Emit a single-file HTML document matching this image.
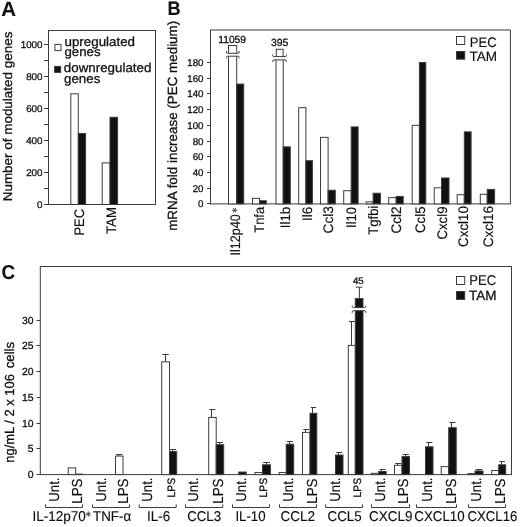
<!DOCTYPE html>
<html><head><meta charset="utf-8"><title>Figure</title>
<style>
html,body{margin:0;padding:0;background:#fff;}
body{width:520px;height:527px;overflow:hidden;font-family:"Liberation Sans", sans-serif;}
svg{display:block;will-change:transform;}
svg text{font-family:"Liberation Sans", sans-serif;fill:#111;stroke:#111;text-rendering:geometricPrecision;}
</style></head><body>
<svg width="520" height="527" viewBox="0 0 520 527">
<rect width="520" height="527" fill="#fff"/>
<text x="1.20" y="15.90" font-size="20.8" font-weight="bold" textLength="14.80" lengthAdjust="spacingAndGlyphs" style="stroke-width:0.1px">A</text>
<text x="167.40" y="14.50" font-size="19.5" font-weight="bold" textLength="13.10" lengthAdjust="spacingAndGlyphs" style="stroke-width:0.1px">B</text>
<text x="1.50" y="278.90" font-size="20" font-weight="bold" textLength="13.60" lengthAdjust="spacingAndGlyphs" style="stroke-width:0.1px">C</text>
<rect x="48.50" y="30.50" width="107.00" height="174.00" fill="none" stroke="#3c3c3c" stroke-width="1.0"/>
<line x1="44.00" y1="204.50" x2="48.50" y2="204.50" stroke="#3c3c3c" stroke-width="1.0"/>
<text x="42.50" y="208.10" font-size="9.8" text-anchor="end" textLength="5.45" lengthAdjust="spacingAndGlyphs" stroke-width="0.3">0</text>
<line x1="44.00" y1="188.50" x2="48.50" y2="188.50" stroke="#3c3c3c" stroke-width="1.0"/>
<line x1="44.00" y1="172.50" x2="48.50" y2="172.50" stroke="#3c3c3c" stroke-width="1.0"/>
<text x="42.50" y="176.10" font-size="9.8" text-anchor="end" textLength="16.35" lengthAdjust="spacingAndGlyphs" stroke-width="0.3">200</text>
<line x1="44.00" y1="156.50" x2="48.50" y2="156.50" stroke="#3c3c3c" stroke-width="1.0"/>
<line x1="44.00" y1="140.50" x2="48.50" y2="140.50" stroke="#3c3c3c" stroke-width="1.0"/>
<text x="42.50" y="144.10" font-size="9.8" text-anchor="end" textLength="16.35" lengthAdjust="spacingAndGlyphs" stroke-width="0.3">400</text>
<line x1="44.00" y1="124.50" x2="48.50" y2="124.50" stroke="#3c3c3c" stroke-width="1.0"/>
<line x1="44.00" y1="108.50" x2="48.50" y2="108.50" stroke="#3c3c3c" stroke-width="1.0"/>
<text x="42.50" y="112.10" font-size="9.8" text-anchor="end" textLength="16.35" lengthAdjust="spacingAndGlyphs" stroke-width="0.3">600</text>
<line x1="44.00" y1="92.50" x2="48.50" y2="92.50" stroke="#3c3c3c" stroke-width="1.0"/>
<line x1="44.00" y1="76.50" x2="48.50" y2="76.50" stroke="#3c3c3c" stroke-width="1.0"/>
<text x="42.50" y="80.10" font-size="9.8" text-anchor="end" textLength="16.35" lengthAdjust="spacingAndGlyphs" stroke-width="0.3">800</text>
<line x1="44.00" y1="60.50" x2="48.50" y2="60.50" stroke="#3c3c3c" stroke-width="1.0"/>
<line x1="44.00" y1="44.50" x2="48.50" y2="44.50" stroke="#3c3c3c" stroke-width="1.0"/>
<text x="42.50" y="48.10" font-size="9.8" text-anchor="end" textLength="21.80" lengthAdjust="spacingAndGlyphs" stroke-width="0.3">1000</text>
<rect x="70.80" y="93.78" width="7.50" height="110.72" fill="#fff" stroke="#3c3c3c" stroke-width="1.0"/>
<rect x="78.30" y="133.46" width="7.30" height="71.04" fill="#111" stroke="#3c3c3c" stroke-width="1.0"/>
<rect x="102.20" y="162.90" width="7.80" height="41.60" fill="#fff" stroke="#3c3c3c" stroke-width="1.0"/>
<rect x="110.00" y="117.30" width="7.60" height="87.20" fill="#111" stroke="#3c3c3c" stroke-width="1.0"/>
<rect x="54.90" y="44.40" width="6.10" height="6.20" fill="#fff" stroke="#3c3c3c" stroke-width="1.0"/>
<rect x="54.60" y="66.40" width="6.10" height="6.00" fill="#111" stroke="#3c3c3c" stroke-width="1.0"/>
<text x="64.50" y="46.30" font-size="12.8" textLength="70.50" lengthAdjust="spacingAndGlyphs" stroke-width="0.3">upregulated</text>
<text x="64.50" y="56.30" font-size="12.8" textLength="36.00" lengthAdjust="spacingAndGlyphs" stroke-width="0.3">genes</text>
<text x="63.80" y="71.50" font-size="12.9" textLength="87.60" lengthAdjust="spacingAndGlyphs" stroke-width="0.3">downregulated</text>
<text x="64.00" y="82.50" font-size="12.9" textLength="36.30" lengthAdjust="spacingAndGlyphs" stroke-width="0.3">genes</text>
<text x="83.90" y="235.60" font-size="13.8" textLength="26.70" lengthAdjust="spacingAndGlyphs" transform="rotate(-90 83.90 235.60)" stroke-width="0.15">PEC</text>
<text x="115.60" y="234.10" font-size="13.8" textLength="27.10" lengthAdjust="spacingAndGlyphs" transform="rotate(-90 115.60 234.10)" stroke-width="0.15">TAM</text>
<text x="12.10" y="201.30" font-size="12.7" textLength="169.70" lengthAdjust="spacingAndGlyphs" transform="rotate(-90 12.10 201.30)" stroke-width="0.3">Number of modulated genes</text>
<rect x="210.50" y="30.00" width="299.90" height="173.90" fill="none" stroke="#3c3c3c" stroke-width="1.0"/>
<line x1="207.00" y1="203.50" x2="210.50" y2="203.50" stroke="#3c3c3c" stroke-width="1.0"/>
<text x="203.50" y="206.70" font-size="9.8" text-anchor="end" textLength="5.42" lengthAdjust="spacingAndGlyphs" stroke-width="0.3">0</text>
<line x1="207.00" y1="188.50" x2="210.50" y2="188.50" stroke="#3c3c3c" stroke-width="1.0"/>
<text x="203.50" y="191.70" font-size="9.8" text-anchor="end" textLength="10.84" lengthAdjust="spacingAndGlyphs" stroke-width="0.3">20</text>
<line x1="207.00" y1="172.50" x2="210.50" y2="172.50" stroke="#3c3c3c" stroke-width="1.0"/>
<text x="203.50" y="175.70" font-size="9.8" text-anchor="end" textLength="10.84" lengthAdjust="spacingAndGlyphs" stroke-width="0.3">40</text>
<line x1="207.00" y1="156.50" x2="210.50" y2="156.50" stroke="#3c3c3c" stroke-width="1.0"/>
<text x="203.50" y="159.70" font-size="9.8" text-anchor="end" textLength="10.84" lengthAdjust="spacingAndGlyphs" stroke-width="0.3">60</text>
<line x1="207.00" y1="141.50" x2="210.50" y2="141.50" stroke="#3c3c3c" stroke-width="1.0"/>
<text x="203.50" y="144.70" font-size="9.8" text-anchor="end" textLength="10.84" lengthAdjust="spacingAndGlyphs" stroke-width="0.3">80</text>
<line x1="207.00" y1="125.50" x2="210.50" y2="125.50" stroke="#3c3c3c" stroke-width="1.0"/>
<text x="203.50" y="128.70" font-size="9.8" text-anchor="end" textLength="16.26" lengthAdjust="spacingAndGlyphs" stroke-width="0.3">100</text>
<line x1="207.00" y1="109.50" x2="210.50" y2="109.50" stroke="#3c3c3c" stroke-width="1.0"/>
<text x="203.50" y="112.70" font-size="9.8" text-anchor="end" textLength="16.26" lengthAdjust="spacingAndGlyphs" stroke-width="0.3">120</text>
<line x1="207.00" y1="93.50" x2="210.50" y2="93.50" stroke="#3c3c3c" stroke-width="1.0"/>
<text x="203.50" y="96.70" font-size="9.8" text-anchor="end" textLength="16.26" lengthAdjust="spacingAndGlyphs" stroke-width="0.3">140</text>
<line x1="207.00" y1="78.50" x2="210.50" y2="78.50" stroke="#3c3c3c" stroke-width="1.0"/>
<text x="203.50" y="81.70" font-size="9.8" text-anchor="end" textLength="16.26" lengthAdjust="spacingAndGlyphs" stroke-width="0.3">160</text>
<line x1="207.00" y1="62.50" x2="210.50" y2="62.50" stroke="#3c3c3c" stroke-width="1.0"/>
<text x="203.50" y="65.70" font-size="9.8" text-anchor="end" textLength="16.26" lengthAdjust="spacingAndGlyphs" stroke-width="0.3">180</text>
<rect x="228.50" y="45.50" width="8.20" height="158.40" fill="#fff" stroke="#3c3c3c" stroke-width="1.0"/>
<rect x="227.10" y="53.30" width="11.40" height="2.90" fill="#fff"/>
<path d="M226.30 51.20 V52.00 Q226.30 53.30 227.70 53.30 H237.90 Q239.30 53.30 239.30 52.00 V51.20" fill="none" stroke="#3c3c3c" stroke-width="1.0"/>
<path d="M226.30 58.30 V57.50 Q226.30 56.20 227.70 56.20 H237.90 Q239.30 56.20 239.30 57.50 V58.30" fill="none" stroke="#3c3c3c" stroke-width="1.0"/>
<rect x="236.70" y="84.10" width="7.00" height="119.80" fill="#111" stroke="#3c3c3c" stroke-width="1.0"/>
<text x="240.00" y="255.50" font-size="13.8" textLength="41.30" lengthAdjust="spacingAndGlyphs" transform="rotate(-90 240.00 255.50)" stroke-width="0.15">Il12p40</text>
<line x1="231.90" y1="210.30" x2="237.30" y2="210.30" stroke="#333" stroke-width="0.9"/>
<line x1="233.25" y1="207.96" x2="235.95" y2="212.64" stroke="#333" stroke-width="0.9"/>
<line x1="235.95" y1="207.96" x2="233.25" y2="212.64" stroke="#333" stroke-width="0.9"/>
<rect x="252.50" y="198.40" width="7.00" height="5.50" fill="#fff" stroke="#3c3c3c" stroke-width="1.0"/>
<rect x="259.50" y="200.76" width="6.80" height="3.14" fill="#111" stroke="#3c3c3c" stroke-width="1.0"/>
<text x="264.00" y="232.70" font-size="13.8" textLength="25.80" lengthAdjust="spacingAndGlyphs" transform="rotate(-90 264.00 232.70)" stroke-width="0.15">Tnfa</text>
<rect x="276.30" y="49.30" width="6.80" height="8.70" fill="#fff" stroke="#3c3c3c" stroke-width="1.0"/>
<rect x="276.00" y="58.00" width="7.20" height="145.90" fill="#fff" stroke="#3c3c3c" stroke-width="1.0"/>
<rect x="273.50" y="56.60" width="12.20" height="3.30" fill="#fff"/>
<path d="M272.70 54.50 V55.30 Q272.70 56.60 274.10 56.60 H285.10 Q286.50 56.60 286.50 55.30 V54.50" fill="none" stroke="#3c3c3c" stroke-width="1.0"/>
<path d="M272.70 62.00 V61.20 Q272.70 59.90 274.10 59.90 H285.10 Q286.50 59.90 286.50 61.20 V62.00" fill="none" stroke="#3c3c3c" stroke-width="1.0"/>
<rect x="283.20" y="146.87" width="7.10" height="57.03" fill="#111" stroke="#3c3c3c" stroke-width="1.0"/>
<text x="289.70" y="228.30" font-size="13.8" textLength="21.60" lengthAdjust="spacingAndGlyphs" transform="rotate(-90 289.70 228.30)" stroke-width="0.15">Il1b</text>
<rect x="298.70" y="107.66" width="7.20" height="96.24" fill="#fff" stroke="#3c3c3c" stroke-width="1.0"/>
<rect x="305.90" y="160.69" width="6.50" height="43.21" fill="#111" stroke="#3c3c3c" stroke-width="1.0"/>
<text x="311.80" y="221.10" font-size="13.8" textLength="14.40" lengthAdjust="spacingAndGlyphs" transform="rotate(-90 311.80 221.10)" stroke-width="0.15">Il6</text>
<rect x="320.50" y="137.36" width="7.60" height="66.54" fill="#fff" stroke="#3c3c3c" stroke-width="1.0"/>
<rect x="328.10" y="190.23" width="7.20" height="13.67" fill="#111" stroke="#3c3c3c" stroke-width="1.0"/>
<text x="333.40" y="233.40" font-size="13.8" textLength="27.40" lengthAdjust="spacingAndGlyphs" transform="rotate(-90 333.40 233.40)" stroke-width="0.15">Ccl3</text>
<rect x="343.70" y="190.70" width="7.50" height="13.20" fill="#fff" stroke="#3c3c3c" stroke-width="1.0"/>
<rect x="351.20" y="126.91" width="6.90" height="76.99" fill="#111" stroke="#3c3c3c" stroke-width="1.0"/>
<text x="355.80" y="227.90" font-size="13.8" textLength="20.90" lengthAdjust="spacingAndGlyphs" transform="rotate(-90 355.80 227.90)" stroke-width="0.15">Il10</text>
<rect x="366.20" y="201.86" width="6.90" height="2.04" fill="#fff" stroke="#3c3c3c" stroke-width="1.0"/>
<rect x="373.10" y="193.22" width="7.30" height="10.68" fill="#111" stroke="#3c3c3c" stroke-width="1.0"/>
<text x="378.00" y="234.70" font-size="13.8" textLength="29.00" lengthAdjust="spacingAndGlyphs" transform="rotate(-90 378.00 234.70)" stroke-width="0.15">Tgfbi</text>
<rect x="388.70" y="197.69" width="7.50" height="6.21" fill="#fff" stroke="#3c3c3c" stroke-width="1.0"/>
<rect x="396.20" y="196.44" width="7.00" height="7.46" fill="#111" stroke="#3c3c3c" stroke-width="1.0"/>
<text x="401.50" y="233.40" font-size="13.8" textLength="26.90" lengthAdjust="spacingAndGlyphs" transform="rotate(-90 401.50 233.40)" stroke-width="0.15">Ccl2</text>
<rect x="412.20" y="125.34" width="7.20" height="78.56" fill="#fff" stroke="#3c3c3c" stroke-width="1.0"/>
<rect x="419.40" y="62.49" width="6.40" height="141.41" fill="#111" stroke="#3c3c3c" stroke-width="1.0"/>
<text x="425.00" y="233.00" font-size="13.8" textLength="26.50" lengthAdjust="spacingAndGlyphs" transform="rotate(-90 425.00 233.00)" stroke-width="0.15">Ccl5</text>
<rect x="434.20" y="187.80" width="7.30" height="16.10" fill="#fff" stroke="#3c3c3c" stroke-width="1.0"/>
<rect x="441.50" y="177.98" width="7.50" height="25.92" fill="#111" stroke="#3c3c3c" stroke-width="1.0"/>
<text x="446.60" y="239.60" font-size="13.8" textLength="33.10" lengthAdjust="spacingAndGlyphs" transform="rotate(-90 446.60 239.60)" stroke-width="0.15">Cxcl9</text>
<rect x="457.20" y="194.71" width="7.10" height="9.19" fill="#fff" stroke="#3c3c3c" stroke-width="1.0"/>
<rect x="464.30" y="131.86" width="6.80" height="72.04" fill="#111" stroke="#3c3c3c" stroke-width="1.0"/>
<text x="468.40" y="246.90" font-size="13.8" textLength="40.80" lengthAdjust="spacingAndGlyphs" transform="rotate(-90 468.40 246.90)" stroke-width="0.15">Cxcl10</text>
<rect x="480.30" y="194.24" width="6.90" height="9.66" fill="#fff" stroke="#3c3c3c" stroke-width="1.0"/>
<rect x="487.20" y="189.44" width="7.40" height="14.46" fill="#111" stroke="#3c3c3c" stroke-width="1.0"/>
<text x="492.80" y="247.20" font-size="13.8" textLength="41.30" lengthAdjust="spacingAndGlyphs" transform="rotate(-90 492.80 247.20)" stroke-width="0.15">Cxcl16</text>
<text x="218.20" y="42.50" font-size="10.3" stroke-width="0.3">11059</text>
<text x="270.90" y="45.60" font-size="10.4" stroke-width="0.3">395</text>
<rect x="456.50" y="36.50" width="8.20" height="8.00" fill="#fff" stroke="#3c3c3c" stroke-width="1.0"/>
<rect x="456.50" y="51.50" width="8.20" height="7.70" fill="#111" stroke="#3c3c3c" stroke-width="1.0"/>
<text x="469.80" y="46.70" font-size="13.8" textLength="26.90" lengthAdjust="spacingAndGlyphs" stroke-width="0.15">PEC</text>
<text x="469.40" y="61.10" font-size="13.6" textLength="27.60" lengthAdjust="spacingAndGlyphs" stroke-width="0.15">TAM</text>
<text x="177.00" y="230.80" font-size="13.3" textLength="210.00" lengthAdjust="spacingAndGlyphs" transform="rotate(-90 177.00 230.80)" stroke-width="0.3">mRNA fold increase (PEC medium)</text>
<rect x="40.30" y="266.50" width="471.20" height="208.10" fill="none" stroke="#3c3c3c" stroke-width="1.0"/>
<line x1="36.50" y1="474.50" x2="40.30" y2="474.50" stroke="#3c3c3c" stroke-width="1.0"/>
<text x="33.50" y="478.10" font-size="10.3" text-anchor="end" textLength="5.78" lengthAdjust="spacingAndGlyphs" stroke-width="0.3">0</text>
<line x1="36.50" y1="448.50" x2="40.30" y2="448.50" stroke="#3c3c3c" stroke-width="1.0"/>
<text x="33.50" y="452.10" font-size="10.3" text-anchor="end" textLength="5.78" lengthAdjust="spacingAndGlyphs" stroke-width="0.3">5</text>
<line x1="36.50" y1="423.50" x2="40.30" y2="423.50" stroke="#3c3c3c" stroke-width="1.0"/>
<text x="33.50" y="427.10" font-size="10.3" text-anchor="end" textLength="11.56" lengthAdjust="spacingAndGlyphs" stroke-width="0.3">10</text>
<line x1="36.50" y1="397.50" x2="40.30" y2="397.50" stroke="#3c3c3c" stroke-width="1.0"/>
<text x="33.50" y="401.10" font-size="10.3" text-anchor="end" textLength="11.56" lengthAdjust="spacingAndGlyphs" stroke-width="0.3">15</text>
<line x1="36.50" y1="371.50" x2="40.30" y2="371.50" stroke="#3c3c3c" stroke-width="1.0"/>
<text x="33.50" y="375.10" font-size="10.3" text-anchor="end" textLength="11.56" lengthAdjust="spacingAndGlyphs" stroke-width="0.3">20</text>
<line x1="36.50" y1="345.50" x2="40.30" y2="345.50" stroke="#3c3c3c" stroke-width="1.0"/>
<text x="33.50" y="349.10" font-size="10.3" text-anchor="end" textLength="11.56" lengthAdjust="spacingAndGlyphs" stroke-width="0.3">25</text>
<line x1="36.50" y1="320.50" x2="40.30" y2="320.50" stroke="#3c3c3c" stroke-width="1.0"/>
<text x="33.50" y="324.10" font-size="10.3" text-anchor="end" textLength="11.56" lengthAdjust="spacingAndGlyphs" stroke-width="0.3">30</text>
<rect x="68.20" y="467.91" width="7.50" height="6.69" fill="#fff" stroke="#3c3c3c" stroke-width="1.0"/>
<rect x="75.70" y="474.09" width="6.80" height="0.51" fill="#111" stroke="#3c3c3c" stroke-width="1.0"/>
<line x1="118.50" y1="454.50" x2="118.50" y2="456.06" stroke="#3c3c3c" stroke-width="1.0"/>
<line x1="116.20" y1="454.50" x2="122.30" y2="454.50" stroke="#3c3c3c" stroke-width="1.0"/>
<rect x="115.50" y="456.06" width="7.50" height="18.54" fill="#fff" stroke="#3c3c3c" stroke-width="1.0"/>
<line x1="165.50" y1="354.50" x2="165.50" y2="361.82" stroke="#3c3c3c" stroke-width="1.0"/>
<line x1="162.40" y1="354.50" x2="168.80" y2="354.50" stroke="#3c3c3c" stroke-width="1.0"/>
<rect x="161.70" y="361.82" width="7.80" height="112.78" fill="#fff" stroke="#3c3c3c" stroke-width="1.0"/>
<line x1="172.50" y1="449.50" x2="172.50" y2="451.43" stroke="#3c3c3c" stroke-width="1.0"/>
<line x1="170.20" y1="449.50" x2="176.00" y2="449.50" stroke="#3c3c3c" stroke-width="1.0"/>
<rect x="169.50" y="451.43" width="7.20" height="23.18" fill="#111" stroke="#3c3c3c" stroke-width="1.0"/>
<line x1="211.50" y1="409.50" x2="211.50" y2="417.44" stroke="#3c3c3c" stroke-width="1.0"/>
<line x1="209.40" y1="409.50" x2="215.50" y2="409.50" stroke="#3c3c3c" stroke-width="1.0"/>
<rect x="208.70" y="417.44" width="7.50" height="57.17" fill="#fff" stroke="#3c3c3c" stroke-width="1.0"/>
<line x1="219.50" y1="442.50" x2="219.50" y2="444.73" stroke="#3c3c3c" stroke-width="1.0"/>
<line x1="216.90" y1="442.50" x2="223.00" y2="442.50" stroke="#3c3c3c" stroke-width="1.0"/>
<rect x="216.20" y="444.73" width="7.50" height="29.87" fill="#111" stroke="#3c3c3c" stroke-width="1.0"/>
<rect x="238.70" y="472.03" width="7.50" height="2.57" fill="#111" stroke="#3c3c3c" stroke-width="1.0"/>
<rect x="255.00" y="472.54" width="7.50" height="2.06" fill="#fff" stroke="#3c3c3c" stroke-width="1.0"/>
<line x1="266.50" y1="462.50" x2="266.50" y2="464.81" stroke="#3c3c3c" stroke-width="1.0"/>
<line x1="263.20" y1="462.50" x2="269.80" y2="462.50" stroke="#3c3c3c" stroke-width="1.0"/>
<rect x="262.50" y="464.81" width="8.00" height="9.79" fill="#111" stroke="#3c3c3c" stroke-width="1.0"/>
<rect x="279.20" y="472.54" width="7.00" height="2.06" fill="#fff" stroke="#3c3c3c" stroke-width="1.0"/>
<line x1="289.50" y1="441.50" x2="289.50" y2="444.22" stroke="#3c3c3c" stroke-width="1.0"/>
<line x1="286.90" y1="441.50" x2="293.00" y2="441.50" stroke="#3c3c3c" stroke-width="1.0"/>
<rect x="286.20" y="444.22" width="7.50" height="30.38" fill="#111" stroke="#3c3c3c" stroke-width="1.0"/>
<line x1="305.50" y1="429.50" x2="305.50" y2="432.37" stroke="#3c3c3c" stroke-width="1.0"/>
<line x1="303.20" y1="429.50" x2="309.30" y2="429.50" stroke="#3c3c3c" stroke-width="1.0"/>
<rect x="302.50" y="432.37" width="7.50" height="42.23" fill="#fff" stroke="#3c3c3c" stroke-width="1.0"/>
<line x1="312.50" y1="407.50" x2="312.50" y2="413.31" stroke="#3c3c3c" stroke-width="1.0"/>
<line x1="310.70" y1="407.50" x2="316.10" y2="407.50" stroke="#3c3c3c" stroke-width="1.0"/>
<rect x="310.00" y="413.31" width="6.80" height="61.29" fill="#111" stroke="#3c3c3c" stroke-width="1.0"/>
<line x1="338.50" y1="452.50" x2="338.50" y2="455.03" stroke="#3c3c3c" stroke-width="1.0"/>
<line x1="336.20" y1="452.50" x2="342.30" y2="452.50" stroke="#3c3c3c" stroke-width="1.0"/>
<rect x="335.50" y="455.03" width="7.50" height="19.57" fill="#111" stroke="#3c3c3c" stroke-width="1.0"/>
<rect x="371.20" y="473.31" width="7.50" height="1.29" fill="#fff" stroke="#3c3c3c" stroke-width="1.0"/>
<line x1="381.50" y1="469.50" x2="381.50" y2="471.51" stroke="#3c3c3c" stroke-width="1.0"/>
<line x1="379.40" y1="469.50" x2="385.50" y2="469.50" stroke="#3c3c3c" stroke-width="1.0"/>
<rect x="378.70" y="471.51" width="7.50" height="3.09" fill="#111" stroke="#3c3c3c" stroke-width="1.0"/>
<line x1="397.50" y1="463.50" x2="397.50" y2="465.33" stroke="#3c3c3c" stroke-width="1.0"/>
<line x1="395.20" y1="463.50" x2="401.30" y2="463.50" stroke="#3c3c3c" stroke-width="1.0"/>
<rect x="394.50" y="465.33" width="7.50" height="9.27" fill="#fff" stroke="#3c3c3c" stroke-width="1.0"/>
<line x1="405.50" y1="454.50" x2="405.50" y2="456.58" stroke="#3c3c3c" stroke-width="1.0"/>
<line x1="402.70" y1="454.50" x2="408.80" y2="454.50" stroke="#3c3c3c" stroke-width="1.0"/>
<rect x="402.00" y="456.58" width="7.50" height="18.02" fill="#111" stroke="#3c3c3c" stroke-width="1.0"/>
<line x1="428.50" y1="442.50" x2="428.50" y2="446.79" stroke="#3c3c3c" stroke-width="1.0"/>
<line x1="426.20" y1="442.50" x2="432.30" y2="442.50" stroke="#3c3c3c" stroke-width="1.0"/>
<rect x="425.50" y="446.79" width="7.50" height="27.81" fill="#111" stroke="#3c3c3c" stroke-width="1.0"/>
<rect x="441.20" y="466.62" width="7.50" height="7.98" fill="#fff" stroke="#3c3c3c" stroke-width="1.0"/>
<line x1="451.50" y1="422.50" x2="451.50" y2="427.74" stroke="#3c3c3c" stroke-width="1.0"/>
<line x1="449.40" y1="422.50" x2="455.50" y2="422.50" stroke="#3c3c3c" stroke-width="1.0"/>
<rect x="448.70" y="427.74" width="7.50" height="46.87" fill="#111" stroke="#3c3c3c" stroke-width="1.0"/>
<rect x="468.00" y="473.57" width="7.00" height="1.03" fill="#fff" stroke="#3c3c3c" stroke-width="1.0"/>
<line x1="478.50" y1="469.50" x2="478.50" y2="471.00" stroke="#3c3c3c" stroke-width="1.0"/>
<line x1="475.70" y1="469.50" x2="482.30" y2="469.50" stroke="#3c3c3c" stroke-width="1.0"/>
<rect x="475.00" y="471.00" width="8.00" height="3.61" fill="#111" stroke="#3c3c3c" stroke-width="1.0"/>
<rect x="491.70" y="470.48" width="7.00" height="4.12" fill="#fff" stroke="#3c3c3c" stroke-width="1.0"/>
<line x1="501.50" y1="461.50" x2="501.50" y2="464.81" stroke="#3c3c3c" stroke-width="1.0"/>
<line x1="499.40" y1="461.50" x2="505.00" y2="461.50" stroke="#3c3c3c" stroke-width="1.0"/>
<rect x="498.70" y="464.81" width="7.00" height="9.79" fill="#111" stroke="#3c3c3c" stroke-width="1.0"/>
<line x1="351.50" y1="321.50" x2="351.50" y2="345.40" stroke="#3c3c3c" stroke-width="1.0"/>
<line x1="349.00" y1="321.50" x2="355.00" y2="321.50" stroke="#3c3c3c" stroke-width="1.0"/>
<rect x="348.30" y="345.40" width="7.00" height="129.20" fill="#fff" stroke="#3c3c3c" stroke-width="1.0"/>
<line x1="359.40" y1="287.20" x2="359.40" y2="298.60" stroke="#3c3c3c" stroke-width="1.0"/>
<line x1="355.80" y1="287.20" x2="362.40" y2="287.20" stroke="#3c3c3c" stroke-width="1.0"/>
<rect x="355.30" y="298.60" width="7.70" height="176.00" fill="#111" stroke="#3c3c3c" stroke-width="1.0"/>
<rect x="353.00" y="307.60" width="12.00" height="3.10" fill="#fff"/>
<path d="M352.20 305.50 V306.30 Q352.20 307.60 353.60 307.60 H364.40 Q365.80 307.60 365.80 306.30 V305.50" fill="none" stroke="#3c3c3c" stroke-width="1.0"/>
<path d="M352.20 312.80 V312.00 Q352.20 310.70 353.60 310.70 H364.40 Q365.80 310.70 365.80 312.00 V312.80" fill="none" stroke="#3c3c3c" stroke-width="1.0"/>
<text x="352.90" y="283.60" font-size="9.6" textLength="10.80" lengthAdjust="spacingAndGlyphs" stroke-width="0.3">45</text>
<rect x="456.50" y="276.50" width="8.20" height="8.00" fill="#fff" stroke="#3c3c3c" stroke-width="1.0"/>
<rect x="456.50" y="291.50" width="8.20" height="7.90" fill="#111" stroke="#3c3c3c" stroke-width="1.0"/>
<text x="469.30" y="284.70" font-size="14.2" textLength="26.90" lengthAdjust="spacingAndGlyphs" stroke-width="0.15">PEC</text>
<text x="469.00" y="299.70" font-size="13.4" textLength="27.50" lengthAdjust="spacingAndGlyphs" stroke-width="0.3">TAM</text>
<text x="14.20" y="462.70" font-size="13.2" textLength="88.60" lengthAdjust="spacingAndGlyphs" transform="rotate(-90 14.20 462.70)" stroke-width="0.3">ng/mL / 2 x 106</text>
<text x="14.20" y="368.30" font-size="13.2" textLength="26.50" lengthAdjust="spacingAndGlyphs" transform="rotate(-90 14.20 368.30)" stroke-width="0.3">cells</text>
<path d="M45.50 504.4 V507.5 H82.50 V504.4" fill="none" stroke="#3c3c3c" stroke-width="1.0"/>
<text x="58.90" y="501.80" font-size="14.5" textLength="24.30" lengthAdjust="spacingAndGlyphs" transform="rotate(-90 58.90 501.80)" stroke-width="0.15">Unt.</text>
<text x="81.60" y="503.80" font-size="14.5" textLength="25.40" lengthAdjust="spacingAndGlyphs" transform="rotate(-90 81.60 503.80)" stroke-width="0.15">LPS</text>
<text x="32.50" y="520.80" font-size="14.2" textLength="53.40" lengthAdjust="spacingAndGlyphs" stroke-width="0.15">IL-12p70</text>
<line x1="88.30" y1="511.40" x2="88.30" y2="516.80" stroke="#333" stroke-width="0.9"/>
<line x1="90.64" y1="512.75" x2="85.96" y2="515.45" stroke="#333" stroke-width="0.9"/>
<line x1="90.64" y1="515.45" x2="85.96" y2="512.75" stroke="#333" stroke-width="0.9"/>
<path d="M92.50 504.4 V507.5 H129.50 V504.4" fill="none" stroke="#3c3c3c" stroke-width="1.0"/>
<text x="105.70" y="501.80" font-size="14.5" textLength="24.30" lengthAdjust="spacingAndGlyphs" transform="rotate(-90 105.70 501.80)" stroke-width="0.15">Unt.</text>
<text x="128.10" y="503.80" font-size="14.5" textLength="25.40" lengthAdjust="spacingAndGlyphs" transform="rotate(-90 128.10 503.80)" stroke-width="0.15">LPS</text>
<text x="93.00" y="520.80" font-size="14.2" textLength="38.10" lengthAdjust="spacingAndGlyphs" stroke-width="0.15">TNF-α</text>
<path d="M139.20 504.4 V507.5 H176.20 V504.4" fill="none" stroke="#3c3c3c" stroke-width="1.0"/>
<text x="152.40" y="501.80" font-size="14.5" textLength="24.30" lengthAdjust="spacingAndGlyphs" transform="rotate(-90 152.40 501.80)" stroke-width="0.15">Unt.</text>
<text x="175.30" y="497.40" font-size="10.8" textLength="19.50" lengthAdjust="spacingAndGlyphs" transform="rotate(-90 175.30 497.40)" stroke-width="0.3">LPS</text>
<text x="147.00" y="520.80" font-size="14.2" textLength="23.10" lengthAdjust="spacingAndGlyphs" stroke-width="0.15">IL-6</text>
<path d="M185.50 504.4 V507.5 H222.80 V504.4" fill="none" stroke="#3c3c3c" stroke-width="1.0"/>
<text x="198.50" y="501.80" font-size="14.5" textLength="24.30" lengthAdjust="spacingAndGlyphs" transform="rotate(-90 198.50 501.80)" stroke-width="0.15">Unt.</text>
<text x="222.60" y="503.80" font-size="14.5" textLength="25.40" lengthAdjust="spacingAndGlyphs" transform="rotate(-90 222.60 503.80)" stroke-width="0.15">LPS</text>
<text x="187.20" y="520.80" font-size="14.2" textLength="33.90" lengthAdjust="spacingAndGlyphs" stroke-width="0.15">CCL3</text>
<path d="M232.50 504.4 V507.5 H269.50 V504.4" fill="none" stroke="#3c3c3c" stroke-width="1.0"/>
<text x="246.10" y="501.80" font-size="14.5" textLength="24.30" lengthAdjust="spacingAndGlyphs" transform="rotate(-90 246.10 501.80)" stroke-width="0.15">Unt.</text>
<text x="267.40" y="497.40" font-size="10.8" textLength="19.50" lengthAdjust="spacingAndGlyphs" transform="rotate(-90 267.40 497.40)" stroke-width="0.3">LPS</text>
<text x="235.40" y="520.80" font-size="14.2" textLength="30.20" lengthAdjust="spacingAndGlyphs" stroke-width="0.15">IL-10</text>
<path d="M279.50 504.4 V507.5 H316.50 V504.4" fill="none" stroke="#3c3c3c" stroke-width="1.0"/>
<text x="292.60" y="501.80" font-size="14.5" textLength="24.30" lengthAdjust="spacingAndGlyphs" transform="rotate(-90 292.60 501.80)" stroke-width="0.15">Unt.</text>
<text x="316.60" y="503.80" font-size="14.5" textLength="25.40" lengthAdjust="spacingAndGlyphs" transform="rotate(-90 316.60 503.80)" stroke-width="0.15">LPS</text>
<text x="280.50" y="520.80" font-size="14.2" textLength="34.60" lengthAdjust="spacingAndGlyphs" stroke-width="0.15">CCL2</text>
<path d="M325.70 504.4 V507.5 H362.50 V504.4" fill="none" stroke="#3c3c3c" stroke-width="1.0"/>
<text x="339.60" y="501.80" font-size="14.5" textLength="24.30" lengthAdjust="spacingAndGlyphs" transform="rotate(-90 339.60 501.80)" stroke-width="0.15">Unt.</text>
<text x="361.00" y="497.40" font-size="10.8" textLength="19.50" lengthAdjust="spacingAndGlyphs" transform="rotate(-90 361.00 497.40)" stroke-width="0.3">LPS</text>
<text x="327.50" y="520.80" font-size="14.2" textLength="34.30" lengthAdjust="spacingAndGlyphs" stroke-width="0.15">CCL5</text>
<path d="M371.50 504.4 V507.5 H409.50 V504.4" fill="none" stroke="#3c3c3c" stroke-width="1.0"/>
<text x="385.20" y="501.80" font-size="14.5" textLength="24.30" lengthAdjust="spacingAndGlyphs" transform="rotate(-90 385.20 501.80)" stroke-width="0.15">Unt.</text>
<text x="408.40" y="503.80" font-size="14.5" textLength="25.40" lengthAdjust="spacingAndGlyphs" transform="rotate(-90 408.40 503.80)" stroke-width="0.15">LPS</text>
<text x="369.00" y="520.80" font-size="14.2" textLength="43.60" lengthAdjust="spacingAndGlyphs" stroke-width="0.15">CXCL9</text>
<path d="M416.50 504.4 V507.5 H456.50 V504.4" fill="none" stroke="#3c3c3c" stroke-width="1.0"/>
<text x="431.60" y="501.80" font-size="14.5" textLength="24.30" lengthAdjust="spacingAndGlyphs" transform="rotate(-90 431.60 501.80)" stroke-width="0.15">Unt.</text>
<text x="455.70" y="503.80" font-size="14.5" textLength="25.40" lengthAdjust="spacingAndGlyphs" transform="rotate(-90 455.70 503.80)" stroke-width="0.15">LPS</text>
<text x="414.30" y="520.80" font-size="14.2" textLength="50.30" lengthAdjust="spacingAndGlyphs" stroke-width="0.15">CXCL10</text>
<path d="M468.50 504.4 V507.5 H505.50 V504.4" fill="none" stroke="#3c3c3c" stroke-width="1.0"/>
<text x="480.80" y="501.80" font-size="14.5" textLength="24.30" lengthAdjust="spacingAndGlyphs" transform="rotate(-90 480.80 501.80)" stroke-width="0.15">Unt.</text>
<text x="504.70" y="503.80" font-size="14.5" textLength="25.40" lengthAdjust="spacingAndGlyphs" transform="rotate(-90 504.70 503.80)" stroke-width="0.15">LPS</text>
<text x="467.50" y="520.80" font-size="14.2" textLength="49.90" lengthAdjust="spacingAndGlyphs" stroke-width="0.15">CXCL16</text>
</svg>
</body></html>
